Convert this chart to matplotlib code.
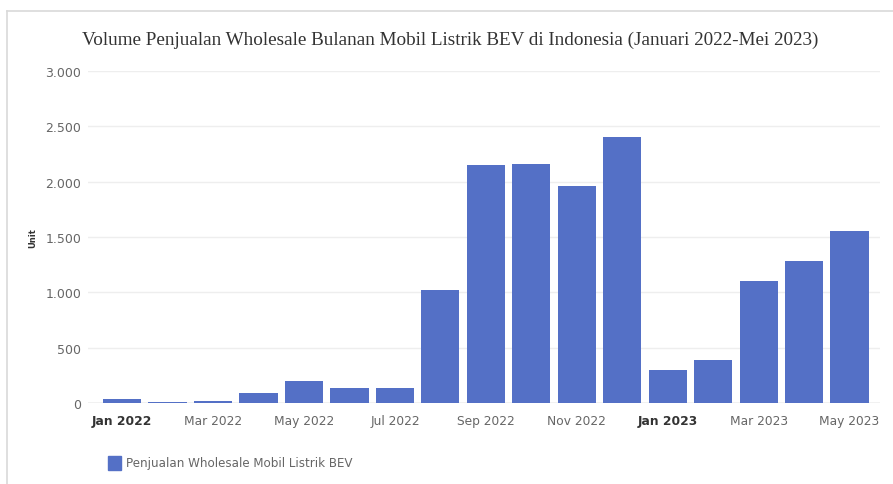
import matplotlib
matplotlib.use("Agg")
import matplotlib.pyplot as plt
from matplotlib.patches import Rectangle
from matplotlib.lines import Line2D

months = ["Jan 2022", "Feb 2022", "Mar 2022", "Apr 2022", "May 2022", "Jun 2022",
          "Jul 2022", "Aug 2022", "Sep 2022", "Oct 2022", "Nov 2022", "Dec 2022",
          "Jan 2023", "Feb 2023", "Mar 2023", "Apr 2023", "May 2023"]
values = [35, 8, 20, 90, 200, 135, 135, 1020, 2150, 2160, 1960, 2400,
          300, 390, 1100, 1285, 1555]
series_name = "Penjualan Wholesale Mobil Listrik BEV"
title = "Volume Penjualan Wholesale Bulanan Mobil Listrik BEV di Indonesia (Januari 2022-Mei 2023)"
yticks = [0, 500, 1000, 1500, 2000, 2500, 3000]
ytick_labels = ["0", "500", "1.000", "1.500", "2.000", "2.500", "3.000"]
bar_color = "#5470c6"

W, H = 893, 485
fig = plt.figure(figsize=(W / 100, H / 100), dpi=100)
fig.patch.set_facecolor("white")

# outer frame
fig.add_artist(Line2D([7 / W, 7 / W], [0, 1 - 12 / H], color="#d9d9d9", lw=1.2))
fig.add_artist(Line2D([7 / W, 1], [1 - 12 / H, 1 - 12 / H], color="#d9d9d9", lw=1.2))

left, right, top, bottom = 88, 880, 72, 404
ax = fig.add_axes([left / W, (H - bottom) / H, (right - left) / W, (bottom - top) / H])

x = list(range(len(months)))
ax.bar(x, values, width=0.84, color=bar_color, zorder=3)

ax.set_ylim(0, 3000)
ax.set_xlim(-0.75, 16.67)
ax.set_yticks(yticks)
ax.set_yticklabels(ytick_labels)
for s in ax.spines.values():
    s.set_visible(False)
ax.grid(axis="y", color="#eeeeee", lw=1, zorder=0)
ax.axhline(0, color="#cccccc", lw=1, zorder=2)
ax.tick_params(axis="y", length=0, pad=5, labelsize=9, labelcolor="#666666")
ax.tick_params(axis="x", length=0, pad=8, labelsize=8.8, labelcolor="#666666")

xt = x[::2]
ax.set_xticks(xt)
ax.set_xticklabels([months[i] for i in xt])
for lbl, i in zip(ax.get_xticklabels(), xt):
    if months[i].startswith("Jan"):
        lbl.set_fontweight("bold")
        lbl.set_color("#333333")

fig.text(33 / W, 1 - 238 / H, "Unit", rotation=90, ha="center", va="center",
         fontsize=6, fontweight="bold", color="#333333")

fig.text(450 / W, 1 - 40 / H, title, ha="center", va="center",
         fontsize=13.8, family="Liberation Serif", color="#333333")

# legend
fig.add_artist(Rectangle((108 / W, 1 - 471 / H), 13 / W, 14 / H,
                         transform=fig.transFigure, color=bar_color))
fig.text(126 / W, 1 - 464 / H, series_name, ha="left", va="center",
         fontsize=8.6, color="#666666")

fig.savefig("out.png", dpi=100)
